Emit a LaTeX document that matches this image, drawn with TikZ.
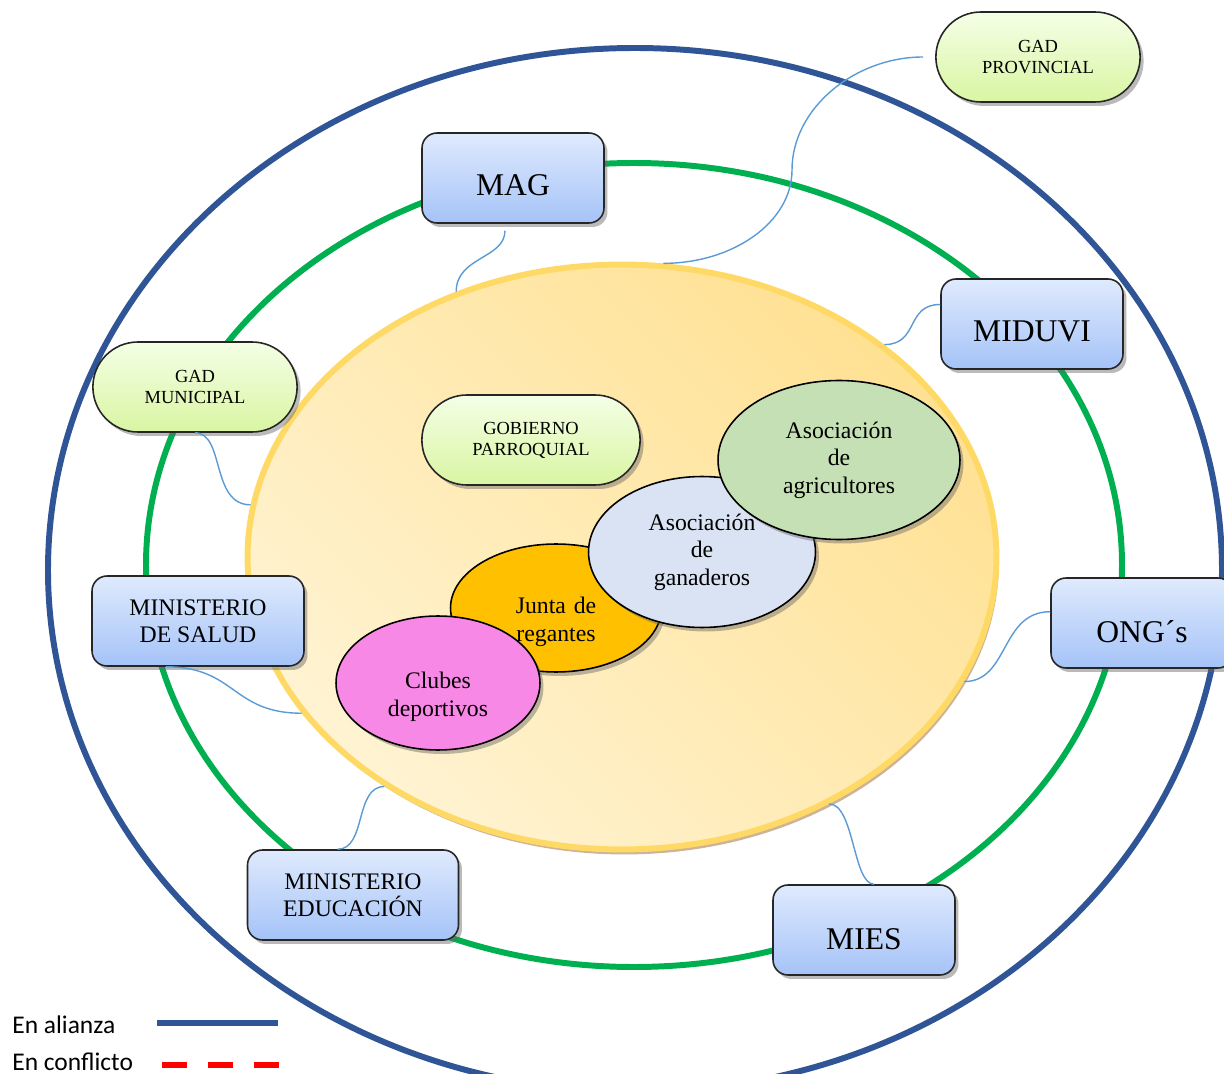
\documentclass[tikz,border=0pt]{standalone}
\usepackage{fontspec}
\setmainfont{Liberation Serif}
\newfontfamily\legendfont{Carlito}
\usepackage{tikz}
\usetikzlibrary{calc,shadows,shapes.geometric,shapes.misc}
\usetikzlibrary{positioning}
\definecolor{alianza}{HTML}{2F5597}
\definecolor{verdeanillo}{HTML}{00B050}
\definecolor{conflicto}{HTML}{FF0000}
\definecolor{enlace}{HTML}{5B9BD5}
\definecolor{nucleoborde}{HTML}{FFD966}
\definecolor{nucleoclaro}{HTML}{FFF3D2}
\definecolor{nucleooscuro}{HTML}{FFE193}
\definecolor{cajaarriba}{HTML}{DFEAFD}
\definecolor{cajaabajo}{HTML}{A5C3F8}
\definecolor{gadarriba}{HTML}{F4FFE6}
\definecolor{gadabajo}{HTML}{D9F5A2}
\definecolor{colagric}{HTML}{C5E0B4}
\definecolor{colganad}{HTML}{DAE3F3}
\definecolor{coljunta}{HTML}{FFC000}
\definecolor{colclubes}{HTML}{F888E6}
\tikzset{sombra/.style={drop shadow={shadow xshift=.07cm,shadow yshift=-.08cm,opacity=.45,fill=black!60}},
  inst/.style={draw=black!85,line width=.9pt,rounded corners=.3cm,top color=cajaarriba,bottom color=cajaabajo,minimum height=1.8cm,inner sep=2pt,align=center,sombra},
  una/.style={font=\fontsize{18}{20}\selectfont,text height=#1,text depth=0pt},
  gad/.style={rounded rectangle,draw=black!85,line width=.9pt,top color=gadarriba,bottom color=gadabajo,minimum height=1.8cm,align=center,font=\fontsize{10.5}{12}\selectfont,sombra},
  org/.style={ellipse,draw=black,line width=.9pt,inner sep=0pt,align=center,sombra},
  bajo/.style={text width=2.4cm,text height=26.8pt,text depth=20pt},
  enl/.style={enlace,line width=.8pt},
  anillo/.style={line width=3.4pt}}

\begin{document}
\begin{tikzpicture}[x=0.02cm,y=-0.02cm,font=\fontsize{13.5}{15.6}\selectfont]
\useasboundingbox (0,0) rectangle (1224,1074);
\clip (0,0) rectangle (1224,1074);
% --- anillos
\draw[alianza,anillo] (635,570) ellipse [x radius=587,y radius=522];
\draw[verdeanillo,anillo] (634,565) ellipse [x radius=488,y radius=402];
% --- nucleo de la comunidad
\node[ellipse,draw=nucleoborde,line width=3.4pt,top color=nucleooscuro,bottom color=nucleoclaro,shading angle=-45,minimum width=14.98cm,minimum height=11.7cm,inner sep=0pt,drop shadow={shadow xshift=.05cm,shadow yshift=-.1cm,opacity=.6,fill=brown!70!gray}] (nucleo) at (622,557) {};
\node[org,bajo,fill=coljunta,minimum width=4.22cm,minimum height=2.56cm] (junta) at (556,608) {Junta de\\regantes};
\node[org,fill=colganad,minimum width=4.54cm,minimum height=3.02cm] (ganad) at (702,552) {Asociación\\de\\ganaderos};
\node[org,fill=colagric,minimum width=4.84cm,minimum height=3.18cm] (agric) at (839,460) {Asociación\\de\\agricultores};
\node[org,bajo,fill=colclubes,minimum width=4.08cm,minimum height=2.68cm] (clubes) at (438,683) {Clubes\\deportivos};
\node[gad,minimum width=4.6cm] (gobpar) at (531,440) {GOBIERNO\\PARROQUIAL};
% --- instituciones
\node[gad,minimum width=4.32cm] (gadprov) at (1038,57) {GAD\\PROVINCIAL};
\node[gad,minimum width=4.32cm] (gadmun) at (195,387) {GAD\\MUNICIPAL};
\node[inst,una=19.4pt,minimum width=3.64cm] (mag) at (513,178) {MAG};
\node[inst,una=19.4pt,minimum width=3.64cm] (miduvi) at (1032,324) {MIDUVI};
\node[inst,minimum width=4.24cm] (salud) at (198,621) {MINISTERIO\\DE SALUD};
\node[inst,una=22.4pt,minimum width=3.64cm] (ong) at (1142,623) {ONG´s};
\node[inst,minimum width=4.22cm] (educ) at (353,895) {MINISTERIO\\EDUCACIÓN};
\node[inst,una=22.4pt,minimum width=3.64cm] (mies) at (864,930) {MIES};
% --- enlaces
\coordinate (giro) at (792,170);
\draw[enl,shorten <=.24cm] (gadprov.west) .. controls +(-80,0) and +(0,-62) .. (giro) .. controls +(0,52) and +(70,0) .. (nucleo.82);
\draw[enl,shorten <=.14cm] (mag.-100) .. controls +(0,35) and +(0,-35) .. (nucleo.122);
\draw[enl] (miduvi.168) .. controls +(-35,0) and +(35,0) .. (nucleo.39);
\draw[enl] (gadmun.south) .. controls +(30,0) and +(-40,0) .. (nucleo.172);
\draw[enl] (salud.-125) .. controls +(70,0) and +(-70,0) .. (nucleo.206);
\draw[enl,shorten <=.12cm] (educ.115) .. controls +(35,0) and +(-30,0) .. (nucleo.224);
\draw[enl,shorten <=.08cm] (mies.73) .. controls +(-25,0) and +(25,0) .. (nucleo.310);
\draw[enl] (ong.173) .. controls +(-50,0) and +(45,0) .. (nucleo.340);
% --- leyenda
\node[anchor=base west,inner sep=0pt,font=\legendfont\fontsize{14.5}{16}\selectfont] (leyalz) at (12,1033) {En alianza};
\node[anchor=base west,inner sep=0pt,font=\legendfont\fontsize{14.5}{16}\selectfont] (leycnf) at (12,1070) {En conflicto};
\draw[alianza,line width=3.4pt] (157,1023) -- (278,1023);
\draw[conflicto,line width=3.4pt,dash pattern=on .5cm off .42cm] (162,1065) -- (282,1065);
\end{tikzpicture}
\end{document}
